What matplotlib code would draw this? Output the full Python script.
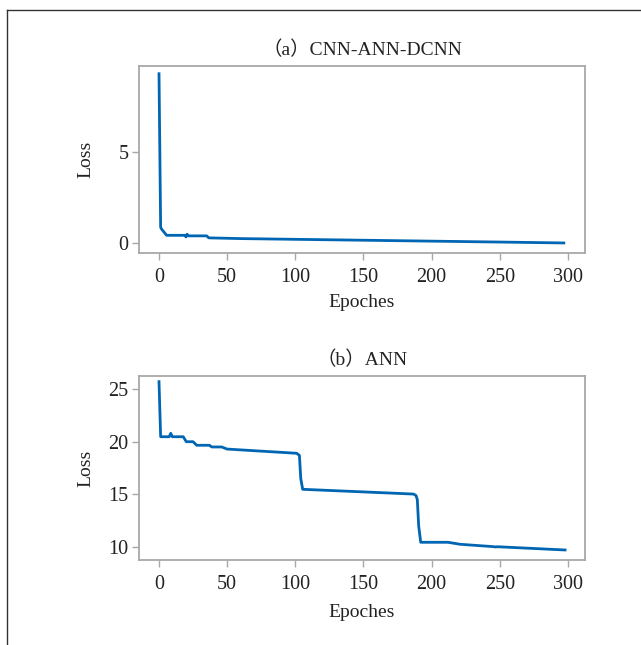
import matplotlib
matplotlib.use("Agg")
import matplotlib.pyplot as plt
from matplotlib.lines import Line2D

epochs_a = [0, 1.2, 2, 5.6, 19, 19.8, 20.6, 21.5, 35, 36.5, 60, 100, 150, 200, 250, 297]
loss_a = [9.3, 0.86, 0.75, 0.42, 0.42, 0.33, 0.48, 0.39, 0.39, 0.28, 0.24, 0.2, 0.15, 0.1, 0.05, 0.0]

epochs_b = [0, 1.2, 7.5, 8.6, 9.8, 17.8, 20, 25, 27.6, 37, 38.7, 46, 50, 101, 103, 104,
            105.4, 186.6, 188.5, 189.5, 190.5, 192, 212, 221, 246, 247, 248, 297.9]
loss_b = [25.7, 20.47, 20.47, 20.8, 20.47, 20.47, 20.0, 20.0, 19.66, 19.66, 19.5, 19.5,
          19.3, 18.9, 18.7, 16.5, 15.48, 15.03, 14.9, 14.5, 12.0, 10.45, 10.45, 10.26,
          10.03, 10.0, 10.03, 9.72]

titles = ["（a）CNN-ANN-DCNN", "（b）ANN"]
xticks = [0, 50, 100, 150, 200, 250, 300]
yticks_a = [0, 5]
yticks_b = [10, 15, 20, 25]

plt.rcParams["font.family"] = ["Liberation Serif", "Noto Sans CJK SC"]
line_color = "#0066b3"
spine_color = "#a8a8a8"
text_color = "#222222"

fig = plt.figure(figsize=(6.41, 6.45), dpi=100)
ax1 = fig.add_axes([0.2168, 0.6078, 0.6958, 0.290])
ax2 = fig.add_axes([0.2168, 0.1318, 0.6958, 0.2853])

panels = [
    (ax1, epochs_a, loss_a, yticks_a, (-0.55, 9.73), -0.217),
    (ax2, epochs_b, loss_b, yticks_b, (8.77, 26.24), -0.238),
]
for (ax, x, y, yt, ylim, xl_y), title in zip(panels, titles):
    ax.plot(x, y, color=line_color, linewidth=2.0, solid_joinstyle="round")
    ax.set_xlim(-14.7, 312.5)
    ax.set_ylim(*ylim)
    ax.set_xticks(xticks)
    ax.set_yticks(yt)
    ax.set_title(title, fontsize=14, pad=8, color=text_color)
    ax.set_xlabel("Epoches", fontsize=14, color=text_color)
    ax.set_ylabel("Loss", fontsize=14, color=text_color)
    ax.xaxis.set_label_coords(0.5, xl_y)
    ax.yaxis.set_label_coords(-0.1, 0.5)
    ax.tick_params(direction="out", length=5, width=1, color=spine_color,
                   labelsize=14.5, labelcolor=text_color)
    ax.tick_params(axis="x", pad=6)
    ax.tick_params(axis="y", pad=2.5)
    for s in ax.spines.values():
        s.set_color(spine_color)
        s.set_linewidth(1.3)

# рамка вокруг рисунка
fig.add_artist(Line2D([0.011, 0.011], [0, 0.9845], color="#333333", linewidth=1))
fig.add_artist(Line2D([0.011, 1.0], [0.9845, 0.9845], color="#333333", linewidth=1))

fig.savefig("out.png", dpi=100)
